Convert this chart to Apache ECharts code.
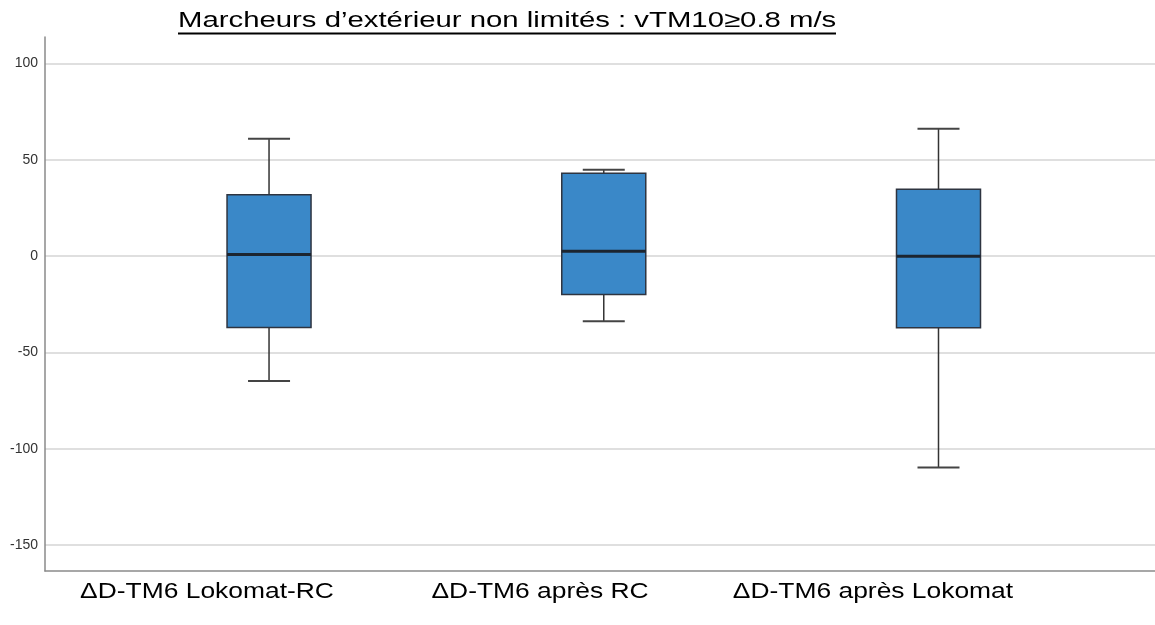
<!DOCTYPE html>
<html>
<head>
<meta charset="utf-8">
<script src="https://cdn.jsdelivr.net/npm/echarts@6/dist/echarts.min.js"></script>
<style>
html,body{margin:0;padding:0;background:#fff;}
#chart{width:1155px;height:625px;}
</style>
</head>
<body>
<div id="chart"></div>
<script>
const titleText = 'Marcheurs d\u2019extérieur non limités : vTM10\u22650.8 m/s';
const categories = ['\u0394D-TM6 Lokomat-RC', '\u0394D-TM6 après RC', '\u0394D-TM6 après Lokomat'];
const positions = [1, 2, 3];
const mins = [-64.8, -33.8, -109.8];
const q1s = [-37.0, -19.9, -37.2];
const medians = [0.9, 2.5, 0.0];
const q3s = [31.9, 43.1, 34.8];
const maxs = [61.0, 44.9, 66.1];
const yTicks = [-150, -100, -50, 0, 50, 100];

const boxData = positions.map((p, i) => [p, mins[i], q1s[i], medians[i], q3s[i], maxs[i]]);
const FONT = 'Arial, "Liberation Sans", sans-serif';

const chart = echarts.init(document.getElementById('chart'), null, {renderer: 'canvas'});

function renderBox(params, api) {
  const x = api.value(0);
  const pMin = api.coord([x, api.value(1)]);
  const pQ1 = api.coord([x, api.value(2)]);
  const pMed = api.coord([x, api.value(3)]);
  const pQ3 = api.coord([x, api.value(4)]);
  const pMax = api.coord([x, api.value(5)]);
  const cx = pMed[0];
  const half = 42, cap = 21;
  const lineStyle = {stroke: '#333333', lineWidth: 1.5};
  return {
    type: 'group',
    children: [
      {type: 'line', shape: {x1: cx, y1: pQ3[1], x2: cx, y2: pMax[1]}, style: lineStyle},
      {type: 'line', shape: {x1: cx, y1: pQ1[1], x2: cx, y2: pMin[1]}, style: lineStyle},
      {type: 'line', shape: {x1: cx - cap, y1: pMax[1], x2: cx + cap, y2: pMax[1]}, style: {stroke: '#444', lineWidth: 2}},
      {type: 'line', shape: {x1: cx - cap, y1: pMin[1], x2: cx + cap, y2: pMin[1]}, style: {stroke: '#444', lineWidth: 2}},
      {type: 'rect', shape: {x: cx - half, y: pQ3[1], width: 2 * half, height: pQ1[1] - pQ3[1]},
       style: {fill: '#3a88c8', stroke: '#2e3440', lineWidth: 1.5}},
      {type: 'line', shape: {x1: cx - half, y1: pMed[1], x2: cx + half, y2: pMed[1]}, style: {stroke: '#1c2530', lineWidth: 3}}
    ]
  };
}

const option = {
  animation: false,
  backgroundColor: '#ffffff',
  textStyle: {fontFamily: FONT},
  grid: [
    {left: 45, right: 0, top: 37, bottom: 54, containLabel: false},
    {left: 40.5, right: 115.5, top: 37, bottom: 54, containLabel: false}
  ],
  xAxis: [
    {type: 'value', gridIndex: 0, min: 0.3307, max: 3.6468,
     axisLine: {show: true, onZero: false, lineStyle: {color: '#8a8a8a', width: 1.5}},
     axisTick: {show: false}, axisLabel: {show: false}, splitLine: {show: false}},
    {type: 'category', gridIndex: 1, data: categories, boundaryGap: true,
     axisLine: {show: false}, axisTick: {show: false}, splitLine: {show: false},
     axisLabel: {show: false}}
  ],
  yAxis: [
    {type: 'value', gridIndex: 0, min: -163.5, max: 113.8,
     axisLine: {show: true, lineStyle: {color: '#8a8a8a', width: 1.5}},
     axisTick: {show: false, customValues: yTicks},
     axisLabel: {show: true, customValues: yTicks, fontSize: 14, color: '#333', margin: 7},
     splitLine: {show: true, lineStyle: {color: '#d4d4d4', width: 1.5}}},
    {type: 'value', gridIndex: 1, min: -163.5, max: 113.8, show: false,
     splitLine: {show: false}}
  ],
  series: [
    {type: 'custom', xAxisIndex: 0, yAxisIndex: 0, data: boxData, z: 5,
     encode: {x: 0, y: [1, 2, 3, 4, 5]},
     renderItem: renderBox}
  ]
};
chart.setOption(option);

// Category labels placed at the label axis' category centres
const labelY = chart.convertToPixel({gridIndex: 1}, [0, -163.5])[1];
const graphics = [
  {type: 'text', x: 178, y: 10, scaleX: 1.333,
   style: {text: titleText, font: '22px ' + FONT, fill: '#000'}},
  {type: 'rect', x: 178, y: 32.5, shape: {width: 658, height: 2}, style: {fill: '#000'}}
];
categories.forEach(function (c) {
  const cx = chart.convertToPixel({xAxisIndex: 1}, c);
  graphics.push({type: 'text', x: cx, y: labelY + 21, scaleX: 1.2,
    style: {text: c, font: '22px ' + FONT, fill: '#000', align: 'center', verticalAlign: 'middle'}});
});
chart.setOption({graphic: graphics});
</script>
</body>
</html>
